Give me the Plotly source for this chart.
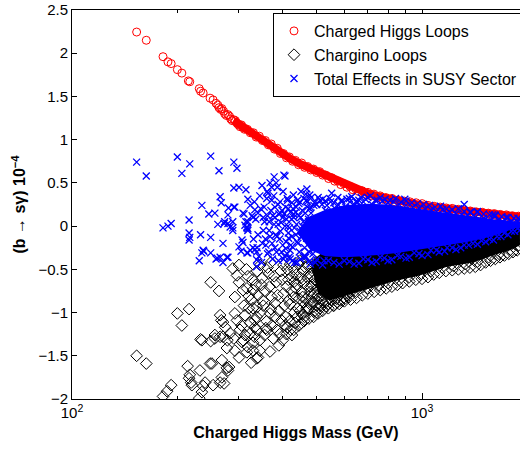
import plotly.graph_objects as go

# ---------------- data ----------------
# Charged Higgs loops (red circles)
higgs_mass = [153, 163, 182, 188, 192, 200, 206, 215, 217, 231, 233, 237, 248, 253,
              261, 266, 271, 276, 282, 287, 293, 299, 305, 311, 317, 323, 330, 336, 343,
              350, 357, 364, 371, 379, 386, 394, 402, 410, 418, 427, 435, 444, 453, 462,
              471, 481, 490, 500, 510, 520, 531, 541, 552, 563, 575, 586, 598, 610, 622,
              635, 647, 660, 674, 687, 701, 715, 729, 744, 759, 774, 789, 805, 821, 838,
              854, 871, 889, 907, 925, 943, 962, 981, 1001, 1021, 1041, 1062, 1083, 1105,
              1127, 1150, 1173, 1196, 1220, 1244, 1269, 1295, 1321, 1347, 1374, 1401, 1429,
              1458, 1487, 1517, 1547, 1578, 1610, 1642, 1675, 1708, 1742, 1777, 1813, 1849,
              1886, 1924,
              258, 263, 268, 273, 279, 284, 290, 296, 302, 308]
higgs_value = [2.245, 2.15, 1.96, 1.90, 1.88, 1.81, 1.77, 1.68, 1.67, 1.59, 1.56, 1.54, 1.48, 1.46,
               1.40, 1.35, 1.33, 1.28, 1.27, 1.22, 1.22, 1.17, 1.17, 1.12, 1.12, 1.08, 1.08, 1.03, 1.04,
               0.99, 0.99, 0.94, 0.95, 0.89, 0.90, 0.84, 0.84, 0.79, 0.80, 0.75, 0.76, 0.71, 0.73, 0.68,
               0.69, 0.65, 0.66, 0.62, 0.63, 0.59, 0.59, 0.55, 0.56, 0.52, 0.52, 0.48, 0.49, 0.45, 0.46,
               0.42, 0.43, 0.40, 0.41, 0.37, 0.39, 0.35, 0.37, 0.33, 0.35, 0.31, 0.33, 0.30, 0.32, 0.28,
               0.30, 0.27, 0.29, 0.26, 0.28, 0.25, 0.27, 0.24, 0.26, 0.23, 0.24, 0.21, 0.23, 0.20,
               0.22, 0.19, 0.21, 0.185, 0.205, 0.175, 0.195, 0.165, 0.185, 0.155, 0.175, 0.15, 0.165,
               0.14, 0.16, 0.135, 0.15, 0.125, 0.145, 0.12, 0.135, 0.11, 0.13, 0.105, 0.12, 0.10,
               0.115, 0.095,
               1.42, 1.37, 1.36, 1.30, 1.29, 1.24, 1.23, 1.19, 1.15, 1.14]

# centre line of the dense (solid-looking) part of the red band
higgs_band_mass = [290, 302, 323, 344, 368, 393, 420, 448, 478, 511, 546, 583, 622, 665, 710,
                   758, 810, 865, 924, 986, 1054, 1125, 1202, 1284, 1371, 1465, 1564, 1671, 1784, 1924]
higgs_band_value = [1.22, 1.17, 1.09, 1.02, 0.94, 0.86, 0.78, 0.72, 0.67, 0.62, 0.56, 0.50,
                    0.45, 0.41, 0.37, 0.34, 0.31, 0.285, 0.265, 0.245, 0.225, 0.21, 0.195, 0.18,
                    0.165, 0.15, 0.14, 0.125, 0.115, 0.105]

# Chargino loops (black diamonds)
chargino_mass = [153, 163, 182, 187, 192, 200, 206, 216, 214, 216, 219, 220, 217, 231, 235, 237, 240,
                 233, 249, 249, 263, 232, 248, 253, 265, 268, 272, 279, 281, 265, 267, 256, 265, 274,
                 283, 278, 288, 296, 308, 316, 320, 292, 292, 296, 302, 308, 316, 318, 329, 323, 312,
                 337, 329, 337, 340, 270, 312, 323, 333, 235, 256, 277, 270, 292, 306, 251, 268, 277,
                 329, 337, 351, 333, 344, 329, 337, 355, 368, 380, 397, 400, 425, 412, 385, 368, 344,
                 350, 355, 360, 365, 372, 376, 383, 390, 395, 402, 408, 415, 420, 430, 436, 442, 450,
                 456, 465, 470, 478, 485, 492, 500, 508, 515, 300, 310, 318, 325, 335, 340, 345, 360,
                 372, 390, 410, 300, 325, 290, 345, 370,
                 348, 352, 358, 362, 367, 370, 378, 381, 387, 392, 398, 404, 412, 418, 424, 432, 438,
                 446, 452, 460, 468, 476, 484, 494, 503, 512, 522, 300, 305, 315, 320, 328, 332, 338,
                 430, 445, 460, 475, 490, 505, 520, 540, 560, 580, 600, 625, 650, 675, 700, 730, 760,
                 790, 820, 850, 880, 920, 960, 1000, 1040, 1080, 1120, 1170, 1220, 1270, 1320, 1370,
                 1420, 1470, 1520, 1570, 1620, 1670, 1720, 1770, 1820, 1870, 1910,
                 440, 470, 500, 530, 570, 610, 650, 700, 750, 800, 860, 920, 990, 1060, 1140, 1230,
                 1330, 1440, 1550, 1660, 1780, 1890,
                 420, 432, 447, 458, 472, 486, 498, 512, 526, 455, 480, 505,
                 402, 406, 411, 416, 421, 426, 430, 434, 439, 443, 448, 453, 457, 462, 466, 471, 475,
                 480, 484, 489, 493, 498, 502, 507, 511, 516, 521, 526, 531, 536, 541, 546, 552, 558,
                 565, 572, 579, 586, 594, 602, 610, 618]
chargino_value = [-1.50, -1.59, -1.97, -1.91, -1.84, -1.01, -1.15, -0.96, -1.62, -1.76, -1.81, -1.84, -1.72,
                  -1.99, -1.92, -1.85, -1.81, -1.31, -1.33, -0.65, -0.75, -1.67, -1.59, -1.84, -1.81, -1.75,
                  -1.82, -1.67, -1.63, -1.03, -1.09, -1.26, -1.28, -1.17, -1.24, -1.32, -0.49, -0.57, -0.74,
                  -0.72, -0.81, -0.82, -1.01, -1.09, -1.20, -1.32, -1.46, -1.40, -1.35, -1.24, -1.26, -1.20,
                  -0.95, -1.05, -1.52, -1.11, -1.03, -1.12, -1.09, -1.32, -1.30, -1.41, -1.28, -1.44, -1.34,
                  -1.59, -1.55, -1.64, -0.74, -0.94, -0.86, -1.17, -1.32, -1.44, -1.53, -1.26, -1.01, -0.89,
                  -1.09, -1.32, -1.26, -1.17, -1.20, -1.45, -1.44,
                  -0.60, -0.75, -1.10, -0.55, -0.82, -1.30, -0.65, -0.98, -0.52, -0.78, -1.05, -0.62, -0.90,
                  -0.50, -0.72, -0.95, -0.60, -0.82, -0.48, -0.70, -0.90, -0.58, -0.78, -0.50, -0.66, -0.86,
                  -0.65, -0.92, -0.58, -0.85, -0.68, -0.80, -1.00, -1.20, -1.15, -1.38, -1.25, -1.52, -1.58,
                  -1.30, -0.45, -0.42,
                  -0.68, -0.92, -1.18, -0.48, -0.70, -0.96, -0.58, -1.05, -0.80, -1.25, -0.62, -0.92, -0.50,
                  -1.10, -0.75, -1.00, -0.56, -0.84, -1.12, -0.66, -0.95, -0.55, -0.82, -0.98, -0.72, -0.92,
                  -0.80, -0.45, -1.15, -0.50, -0.95, -0.62, -1.28, -0.52,
                  -1.20, -1.15, -1.10, -1.07, -1.05, -1.01, -0.98, -0.95, -0.92, -0.90, -0.87, -0.85, -0.83,
                  -0.80, -0.78, -0.76, -0.74, -0.72, -0.70, -0.68, -0.66, -0.64, -0.62, -0.61, -0.59, -0.56,
                  -0.54, -0.52, -0.51, -0.50, -0.49, -0.48, -0.47, -0.45, -0.42, -0.40, -0.38, -0.36, -0.34,
                  -0.32, -0.30, -0.28, -0.26,
                  -1.05, -0.98, -0.92, -0.88, -0.84, -0.80, -0.76, -0.72, -0.69, -0.66, -0.62, -0.59, -0.56,
                  -0.52, -0.48, -0.46, -0.44, -0.41, -0.36, -0.32, -0.28, -0.22,
                  -0.44, -0.64, -0.40, -0.88, -0.46, -0.68, -0.42, -0.60, -0.48, -1.02, -0.76, -0.84,
                  -0.45, -1.15, -0.70, -0.86, -1.20, -0.58, -0.82, -1.12, -0.68, -0.44, -0.98, -0.76, -0.52,
                  -1.05, -0.84, -0.60, -0.95, -0.70, -0.48, -0.88, -0.62, -1.00, -0.80, -0.55, -0.95, -0.70,
                  -0.88, -0.62, -0.93, -0.78, -0.90, -0.68, -0.85, -0.92, -0.74, -0.88, -0.80, -0.86, -0.76,
                  -0.84, -0.78, -0.82]

# dense core of the chargino cloud (outline of the solid black area)
chargino_core_mass = [480, 520, 600, 760, 950, 1180, 1480, 1905,
                      1905, 1780, 1590, 1400, 1180, 985, 825, 710, 610, 545, 505]
chargino_core_value = [-0.42, -0.30, -0.28, -0.25, -0.20, -0.15, -0.08, 0.0,
                       -0.22, -0.28, -0.34, -0.42, -0.47, -0.57, -0.64, -0.72, -0.80, -0.86, -0.78]

# Total effects in SUSY sector (blue crosses)
total_mass = [153, 163, 200, 206, 217, 249, 263, 290, 296, 290, 300, 314, 318, 235, 265, 267, 246, 256,
              280, 290, 308, 327, 216, 182, 188, 192, 261, 279, 283, 312, 318, 216, 217, 216, 233, 249,
              270, 272, 235, 238, 231, 249, 258, 265, 270, 279, 300, 308, 304, 318, 329, 337, 316, 318,
              314, 337, 337, 279, 273, 288, 288, 288, 292, 310, 318, 316, 329, 306, 323, 333, 316, 237,
              260, 277, 349, 368, 378, 383, 406, 360, 372, 380, 333, 340, 323, 469, 478, 552, 412, 425,
              448, 511, 535, 622, 652, 403, 372, 363, 466, 520, 893, 1320, 1145, 1180, 1438, 1590, 1740,
              1880, 1371, 1614,
              340, 350, 355, 362, 366, 375, 380, 388, 392, 398, 405, 410, 415, 420, 428, 432, 440, 445,
              450, 458, 462, 470, 475, 482, 488, 495, 500, 505, 515, 525, 530, 540, 548, 556, 565, 575,
              590, 605, 620, 640, 660, 680, 700, 720, 745, 770, 800, 830, 860, 900, 940, 980, 1020, 1060,
              1100, 1200, 1250, 1300, 1350, 1420, 1500, 1550, 1650, 1700, 1800, 1900,
              560, 600, 640, 680, 720, 760, 800, 850, 900, 950, 1000, 1060, 1120, 1180, 1250, 1320, 1400,
              1480, 1560, 1640, 1720, 1800, 1880, 1910,
              400, 415, 430, 445, 455, 468, 480, 493, 505, 518, 530, 545, 560, 575, 590, 610, 630, 650,
              670, 690, 712, 735, 760, 785, 810, 840, 870, 900, 935, 970, 1010, 1050, 1090, 1130, 1175,
              1220, 1270, 1320, 1380, 1440, 1500, 1560, 1620, 1690, 1760, 1830, 1900,
              420, 440, 460, 480, 500, 520, 540, 580, 620, 660, 700, 740, 780, 820, 870, 920, 980, 1040,
              1100, 1160, 1220, 1290, 1360, 1440, 1520, 1600, 1680, 1760, 1840, 1900,
              330, 335, 342, 346, 352, 358, 362, 368, 374, 378, 384, 388, 394, 400, 404, 412, 416, 424,
              426, 438, 452, 464, 476,
              385, 396, 408, 418, 430, 442, 455, 468, 480, 492, 390, 402, 414, 426, 436, 448, 462, 474,
              332, 338, 344, 348, 354, 357, 361, 365, 370, 373, 377, 382, 386, 389, 393, 397, 401, 406,
              409, 413, 417, 421, 425, 429, 433, 437, 441, 446, 451, 456, 460, 465, 470, 474, 478, 483,
              487, 491, 496, 352, 366, 380, 394, 408, 422, 436, 450, 464, 478]
total_value = [0.74, 0.58, 0.80, 0.61, 0.72, 0.81, 0.64, 0.74, 0.67, 0.44, 0.45, 0.42, 0.31, 0.24, 0.34,
               0.27, 0.14, 0.15, 0.21, 0.22, 0.15, 0.12, 0.07, -0.02, 0.00, 0.03, 0.02, 0.03, -0.01, 0.01,
               -0.03, -0.08, -0.13, -0.16, -0.10, -0.13, -0.20, 0.03, -0.31, -0.29, -0.40, -0.31, -0.38,
               -0.36, -0.42, -0.36, -0.24, -0.19, -0.29, -0.31, -0.25, -0.30, -0.01, -0.05, 0.05, -0.39,
               -0.47, 0.13, 0.05, 0.05, -0.02, -0.05, 0.22, 0.14, 0.05, -0.02, 0.10, -0.16, -0.28, -0.27,
               -0.31, -0.28, -0.37, -0.36, 0.47, 0.50, 0.57, 0.50, 0.58, 0.32, 0.30, 0.22, 0.19, 0.15, 0.24,
               0.43, 0.36, 0.38, 0.32, 0.27, 0.28, 0.30, 0.24, 0.28, 0.27, 0.59, 0.45, 0.38, 0.37, 0.31,
               0.31, 0.25, 0.19, 0.15, 0.16, 0.13, 0.10, 0.09, 0.16, 0.13,
               -0.10, -0.20, 0.05, -0.32, -0.05, 0.12, -0.25, 0.02, -0.15, 0.18, -0.35, 0.08, -0.08, -0.28,
               0.20, -0.02, -0.18, 0.12, -0.38, 0.05, -0.25, 0.22, -0.10, 0.15, -0.32, 0.00, 0.25, -0.20,
               0.10, -0.40, 0.18, -0.05, 0.28, -0.30, 0.20, 0.25, 0.30, 0.22, 0.32, 0.25, 0.30, 0.28, 0.33,
               0.25, 0.30, 0.29, 0.27, 0.28, 0.25, 0.24, 0.22, 0.21, 0.20, 0.19, 0.17, 0.16, 0.14, 0.13,
               0.12, 0.10, 0.09, 0.06, 0.07, 0.05, 0.05, 0.04,
               -0.42, -0.40, -0.44, -0.38, -0.42, -0.36, -0.40, -0.34, -0.37, -0.31, -0.34, -0.28, -0.30,
               -0.25, -0.27, -0.22, -0.20, -0.17, -0.15, -0.12, -0.08, -0.06, -0.02, 0.00,
               0.10, 0.20, 0.14, 0.26, 0.18, 0.30, 0.22, 0.27, 0.33, 0.25, 0.29, 0.32, 0.27, 0.33, 0.28,
               0.31, 0.34, 0.29, 0.33, 0.31, 0.35, 0.30, 0.33, 0.31, 0.30, 0.32, 0.28, 0.29, 0.27, 0.26,
               0.25, 0.24, 0.22, 0.23, 0.20, 0.19, 0.20, 0.17, 0.16, 0.17, 0.14, 0.13, 0.12, 0.11, 0.10,
               0.09, 0.08,
               -0.38, -0.42, -0.36, -0.44, -0.39, -0.45, -0.40, -0.44, -0.41, -0.43, -0.39, -0.41, -0.37,
               -0.39, -0.35, -0.36, -0.32, -0.33, -0.28, -0.29, -0.25, -0.25, -0.22, -0.21, -0.18, -0.16,
               -0.12, -0.10, -0.06, -0.05,
               -0.15, 0.08, -0.35, 0.20, -0.05, -0.22, 0.12, -0.12, -0.38, 0.02, -0.30, 0.25, -0.06,
               -0.22, 0.14, -0.32, -0.14, 0.08, -0.40, 0.02, -0.12, -0.02, -0.30,
               -0.12, 0.04, -0.26, -0.02, 0.10, -0.20, 0.00, -0.14, 0.06, -0.26, 0.14, -0.38, 0.00,
               -0.24, 0.16, -0.06, -0.34, 0.08,
               0.28, -0.25, 0.35, -0.42, 0.22, -0.15, 0.40, -0.30, 0.18, -0.20, 0.35, -0.10, 0.45, -0.40,
               0.28, -0.30, 0.40, 0.00, -0.18, 0.30, -0.36, 0.16, -0.12, 0.36, -0.42, 0.22, 0.30, -0.30,
               0.40, -0.05, 0.32, -0.36, 0.28, 0.05, -0.40, 0.33, -0.18, 0.24, -0.42, 0.10, 0.05, 0.10,
               0.15, 0.22, -0.22, -0.10, 0.10, 0.15, 0.20]

# dense core of the total-effects cloud (outline of the solid blue area)
total_core_mass = [440, 470, 530, 600, 700, 800, 900, 1000, 1100, 1250, 1400, 1600, 1800, 1905,
                   1905, 1800, 1640, 1480, 1320, 1180, 1060, 950, 850, 760, 680, 600, 530, 480]
total_core_value = [-0.08, 0.10, 0.19, 0.24, 0.26, 0.25, 0.22, 0.19, 0.17, 0.14, 0.11, 0.08, 0.06,
                    0.05, -0.01, -0.04, -0.10, -0.15, -0.19, -0.22, -0.25, -0.28, -0.31, -0.33, -0.35,
                    -0.36, -0.35, -0.28]

y_ticks = [-2, -1.5, -1, -0.5, 0, 0.5, 1, 1.5, 2, 2.5]
y_tick_text = ["\u22122", "\u22121.5", "\u22121", "\u22120.5", "0", "0.5", "1", "1.5", "2", "2.5"]
x_ticks = [100, 1000]
x_tick_text = ["10<sup>2</sup>", "10<sup>3</sup>"]
x_minor_ticks = [200, 300, 400, 500, 600, 700, 800, 900, 2000]

# ---------------- figure ----------------
FONT = "Liberation Sans, Arial, Helvetica, sans-serif"
RED, BLUE, BLACK = "#ff0000", "#0000ff", "#000000"

fig = go.Figure()
fig.add_trace(go.Scatter(
    x=higgs_band_mass, y=higgs_band_value, mode="lines", line=dict(width=8, color=RED),
    showlegend=False, hoverinfo="skip"))
fig.add_trace(go.Scatter(
    x=higgs_mass, y=higgs_value, mode="markers", name="Charged Higgs Loops",
    marker=dict(symbol="circle-open", size=8, color=RED, line=dict(width=1, color=RED))))
fig.add_trace(go.Scatter(
    x=chargino_core_mass, y=chargino_core_value, mode="lines", fill="toself",
    fillcolor=BLACK, line=dict(width=0, color=BLACK), showlegend=False, hoverinfo="skip"))
fig.add_trace(go.Scatter(
    x=chargino_mass, y=chargino_value, mode="markers", name="Chargino Loops",
    marker=dict(symbol="diamond-open", size=9, color=BLACK, line=dict(width=1, color=BLACK))))
fig.add_trace(go.Scatter(
    x=total_core_mass, y=total_core_value, mode="lines", fill="toself",
    fillcolor=BLUE, line=dict(width=0, color=BLUE), showlegend=False, hoverinfo="skip"))
fig.add_trace(go.Scatter(
    x=total_mass, y=total_value, mode="markers", name="Total Effects in SUSY Sector",
    marker=dict(symbol="x-thin-open", size=7, color=BLUE, line=dict(width=1.3, color=BLUE))))

fig.update_layout(
    width=520, height=451,
    margin=dict(l=72, r=0, t=10, b=52, autoexpand=False),
    paper_bgcolor="white", plot_bgcolor="white",
    font=dict(family=FONT, size=15, color="black"),
    legend=dict(x=(273 - 72) / 448, y=(399 - 13) / 389, xanchor="left", yanchor="top",
                bgcolor="white", bordercolor="black", borderwidth=1,
                font=dict(family=FONT, size=16, color="black"),
                tracegroupgap=0, itemwidth=30),
    xaxis=dict(type="log", range=[2, 3.28], tickmode="array", tickvals=x_ticks, ticktext=x_tick_text,
               ticks="inside", ticklen=6, tickcolor="black", showline=True, linecolor="black",
               linewidth=1, mirror="ticks", showgrid=False, zeroline=False,
               minor=dict(tickvals=x_minor_ticks, ticks="inside", ticklen=3, tickcolor="black",
                          showgrid=False),
               tickfont=dict(family=FONT, size=15),
               title=dict(text="<b>Charged Higgs Mass (GeV)</b>", font=dict(family=FONT, size=16),
                          standoff=6)),
    yaxis=dict(range=[-2, 2.5], tickmode="array", tickvals=y_ticks, ticktext=y_tick_text,
               ticks="inside", ticklen=5, tickcolor="black", showline=True, linecolor="black",
               linewidth=1, mirror=False, showgrid=False, zeroline=False,
               tickfont=dict(family=FONT, size=15),
               title=dict(text="<b>(b \u2192 s\u03b3) 10<sup>\u22124</sup></b>",
                          font=dict(family=FONT, size=16), standoff=8)),
)

fig.write_html("out.html")
